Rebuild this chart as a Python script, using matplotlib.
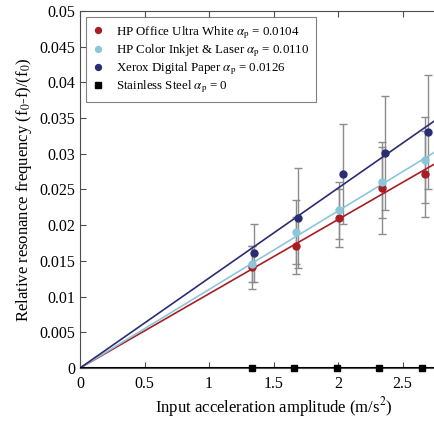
import numpy as np
import matplotlib
matplotlib.use("Agg")
import matplotlib.pyplot as plt

plt.rcParams['font.family'] = ['Liberation Serif', 'DejaVu Serif']
plt.rcParams['mathtext.fontset'] = 'stix'

# measured points (acceleration in m/s^2, relative shift)
x_red = [1.33, 1.67, 2.01, 2.34, 2.67]
y_red = [0.0141, 0.0171, 0.0210, 0.0252, 0.0272]
e_red = [0.003, 0.004, 0.004, 0.0065, 0.006]

x_lblue = [1.33, 1.67, 2.01, 2.34, 2.67]
y_lblue = [0.0146, 0.0190, 0.0221, 0.0260, 0.0291]
e_lblue = [0.0025, 0.0045, 0.004, 0.005, 0.006]

x_dblue = [1.35, 1.69, 2.04, 2.36, 2.70]
y_dblue = [0.0161, 0.0210, 0.0272, 0.0301, 0.0330]
e_dblue = [0.004, 0.007, 0.007, 0.008, 0.008]

x_steel = [1.33, 1.66, 1.99, 2.32, 2.65]
y_steel = [0, 0, 0, 0, 0]

alpha_red = 0.0104
alpha_lblue = 0.0110
alpha_dblue = 0.0126
alpha_steel = 0.0

xticks = [0, 0.5, 1, 1.5, 2, 2.5]
xticklabels = ['0', '0.5', '1', '1.5', '2', '2.5']
yticks = [0, 0.005, 0.01, 0.015, 0.02, 0.025, 0.03, 0.035, 0.04, 0.045, 0.05]
yticklabels = ['0', '0.005', '0.01', '0.015', '0.02', '0.025', '0.03',
               '0.035', '0.04', '0.045', '0.05']

c_red = '#a81e24'
c_lblue = '#8cc6da'
c_dblue = '#2b2d72'

fig = plt.figure(figsize=(4.35, 4.22), dpi=100)
ax = fig.add_axes([0.184, 0.128, 0.89, 0.846])

# error bars first so the dots sit on top
for xs, ys, es in [(x_red, y_red, e_red), (x_lblue, y_lblue, e_lblue),
                   (x_dblue, y_dblue, e_dblue)]:
    ax.errorbar(xs, ys, yerr=es, fmt='none', ecolor='0.55', elinewidth=1.0,
                capsize=3, capthick=1.0, zorder=2)

xfit = np.array([0, 3])
ax.plot(xfit, alpha_red * xfit, color=c_red, lw=1.2, zorder=3)
ax.plot(xfit, alpha_lblue * xfit, color=c_lblue, lw=1.2, zorder=3)
ax.plot(xfit, alpha_dblue * xfit, color=c_dblue, lw=1.2, zorder=3)
ax.plot(xfit, alpha_steel * xfit, color='black', lw=1.5, zorder=3)

ax.plot(x_red, y_red, 'o', color=c_red, ms=5, zorder=4,
        label=r'HP Office Ultra White $\alpha_{\rm p}$ = 0.0104')
ax.plot(x_lblue, y_lblue, 'o', color=c_lblue, ms=5, zorder=4,
        label=r'HP Color Inkjet & Laser $\alpha_{\rm p}$ = 0.0110')
ax.plot(x_dblue, y_dblue, 'o', color=c_dblue, ms=5, zorder=4,
        label=r'Xerox Digital Paper $\alpha_{\rm p}$ = 0.0126')
ax.plot(x_steel, y_steel, 's', color='black', ms=5, zorder=5, clip_on=False,
        label=r'Stainless Steel $\alpha_{\rm p}$ = 0')

ax.set_xlim(0, 3)
ax.set_ylim(0, 0.05)
ax.set_xticks(xticks)
ax.set_xticklabels(xticklabels)
ax.set_yticks(yticks)
ax.set_yticklabels(yticklabels)
ax.tick_params(direction='in', top=True, right=True, labelsize=11.5,
               length=4, color='0.3')
ax.tick_params(axis='x', pad=6)
for s in ax.spines.values():
    s.set_color('0.3')

ax.set_xlabel(r'Input acceleration amplitude (m/s$^2$)', fontsize=12, labelpad=2)
ax.set_ylabel(r'Relative resonance frequency (f$_0$-f)/(f$_0$)', fontsize=12)

leg = ax.legend(loc='upper left', fontsize=9.3, fancybox=False, framealpha=1,
                edgecolor='0.5', handlelength=0.8, handletextpad=1.0,
                borderaxespad=0.5, labelspacing=0.12, borderpad=0.5,
                markerscale=0.85)
leg.get_frame().set_linewidth(0.8)

fig.savefig('out.png', dpi=100)
